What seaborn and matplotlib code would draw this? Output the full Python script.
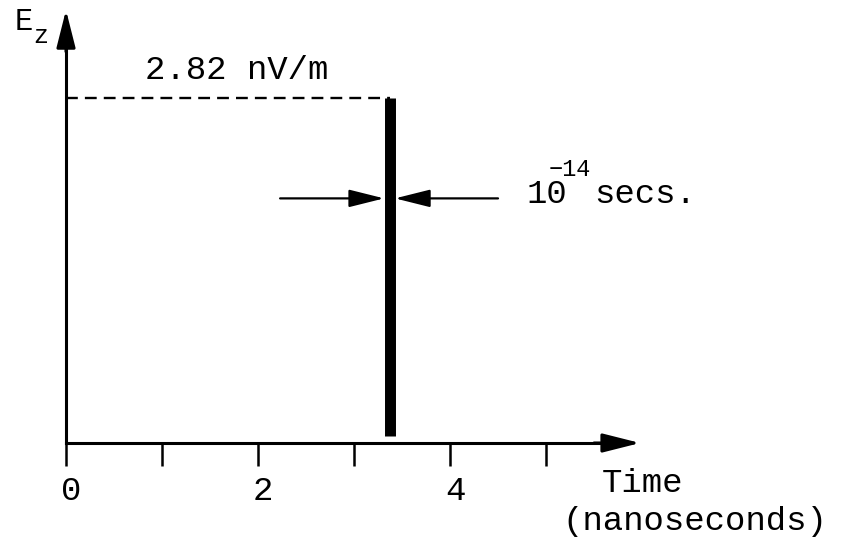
import matplotlib
matplotlib.use("Agg")
import matplotlib.pyplot as plt
import matplotlib.transforms as mtransforms
import numpy as np
import pandas as pd
import seaborn as sns

# ---- data -------------------------------------------------------------
tick_positions = [0, 1, 2, 3, 4, 5]
tick_labels = ["0", "", "2", "", "4", ""]
pulse_time = 3.37          # ns
pulse_peak = 2.82          # nV/m
pulse_floor = 0.06         # spike starts just above the axis
pulse_halfwidth = 0.057    # drawn half-width of the spike, in ns units
width_arrow_level = 2.0    # height of the pulse-width arrows
width_label = ("10", "\u221214", "secs.")
x_label = ("Time", "(nanoseconds)")
y_label = ("E", "z")

# ---- style ------------------------------------------------------------
sns.set_style("white")
plt.rcParams["font.family"] = ["Liberation Mono", "DejaVu Sans"]
plt.rcParams["text.color"] = "black"
plt.rcParams["xtick.color"] = "black"
plt.rcParams["xtick.labelcolor"] = "black"
FS = 24.5

fig = plt.figure(figsize=(8.47, 5.40), dpi=100)
ax = fig.add_axes([0, 0, 1, 1])
ax.set_xlim(-0.6875, 8.135)
ax.set_ylim(-0.793, 3.622)

# the pulse itself
pulse = pd.DataFrame({"time": [pulse_time, pulse_time],
                      "Ez": [pulse_floor, pulse_peak]})
sns.lineplot(data=pulse, x="time", y="Ez", ax=ax, color="black",
             estimator=None, sort=False, errorbar=None,
             linewidth=7.9, solid_capstyle="butt")
ax.set_xlabel("")
ax.set_ylabel("")

# dashed guide to the peak value
ax.plot([0, pulse_time], [pulse_peak, pulse_peak], color="black",
        linewidth=1.7, linestyle=(0, (5.0, 3.0)), solid_capstyle="butt")
ax.text(1.78, pulse_peak + 0.16, f"{pulse_peak:.2f} nV/m", fontsize=FS,
        ha="center", va="baseline", color="black")

# axes drawn as arrows
for sp in ["top", "right"]:
    ax.spines[sp].set_visible(False)
ax.spines["bottom"].set_position(("data", 0))
ax.spines["left"].set_position(("data", 0))
ax.spines["bottom"].set_bounds(0, 5.7)
ax.spines["left"].set_bounds(0, 3.3)
for sp in ["bottom", "left"]:
    ax.spines[sp].set_linewidth(2.2)
    ax.spines[sp].set_color("black")

axis_arrow = dict(arrowstyle="-|>,head_length=23,head_width=5.8",
                  mutation_scale=1, color="black", lw=2.2,
                  shrinkA=0, shrinkB=0)
ax.annotate("", xy=(5.98, 0), xytext=(5.5, 0), arrowprops=axis_arrow)
ax.annotate("", xy=(0, 3.54), xytext=(0, 3.2), arrowprops=axis_arrow)

ax.set_xticks(tick_positions, labels=tick_labels)
ax.set_yticks([])
ax.tick_params(axis="x", direction="out", length=16.5, width=1.8,
               color="black", labelcolor="black", pad=7, labelsize=FS,
               bottom=True)
shift = mtransforms.ScaledTranslation(5 / 100, 0, fig.dpi_scale_trans)
for lab in ax.get_xticklabels():
    lab.set_transform(lab.get_transform() + shift)

ax.text(6.0, -0.40, x_label[0], fontsize=FS, ha="center", va="baseline")
ax.text(6.55, -0.71, x_label[1], fontsize=FS, ha="center", va="baseline")
ax.text(-0.53, 3.377, y_label[0], fontsize=22, ha="left", va="baseline")
ax.text(-0.345, 3.27, y_label[1], fontsize=18, ha="left", va="baseline")

# pulse-width indicator arrows
width_arrow = dict(arrowstyle="-|>,head_length=21.6,head_width=5.4",
                   mutation_scale=1, color="black", lw=1.6,
                   shrinkA=0, shrinkB=0)
ax.annotate("", xy=(pulse_time - pulse_halfwidth, width_arrow_level),
            xytext=(2.23, width_arrow_level), arrowprops=width_arrow)
ax.annotate("", xy=(pulse_time + pulse_halfwidth, width_arrow_level),
            xytext=(4.5, width_arrow_level), arrowprops=width_arrow)

ax.text(4.80, 1.96, width_label[0], fontsize=FS, ha="left", va="baseline")
ax.text(5.03, 2.18, width_label[1], fontsize=17, ha="left", va="baseline")
ax.text(5.50, 1.96, width_label[2], fontsize=FS, ha="left", va="baseline")

fig.savefig("out.png", dpi=100)
